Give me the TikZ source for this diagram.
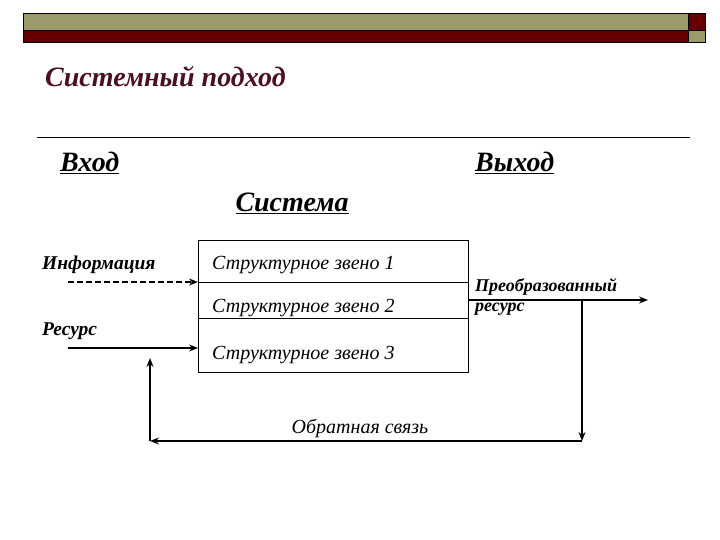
\documentclass[tikz,border=0pt]{standalone}
\usepackage{fontspec}
\setmainfont{Liberation Serif}
\usetikzlibrary{arrows.meta}
\definecolor{olive}{HTML}{9C9A6A}
\definecolor{dred}{HTML}{660000}
\definecolor{ttl}{HTML}{4A1020}
\begin{document}
\begin{tikzpicture}[x=1pt,y=-1pt,
  lbl/.style={font=\bfseries\itshape\fontsize{19.5}{20}\selectfont,anchor=west,inner sep=0},
  hd/.style={font=\bfseries\itshape\fontsize{28}{30}\selectfont,inner sep=0},
  zv/.style={font=\itshape\fontsize{20}{22}\selectfont,anchor=west,inner sep=0},
  arr/.style={-{Stealth[length=9pt,width=7pt]},line width=1.3pt}]
\useasboundingbox (0,0) rectangle (720,540);
\fill[olive,draw=black,line width=0.8pt] (23,13) rectangle (688,30);
\fill[dred,draw=black,line width=0.8pt] (23,30) rectangle (688,42);
\fill[dred,draw=black,line width=0.8pt] (688,13) rectangle (705,30);
\fill[olive,draw=black,line width=0.8pt] (688,30) rectangle (705,42);
\node[hd,anchor=west,text=ttl] (t) at (45,77) {Системный подход};
\draw[line width=0.8pt] (37,137) -- (690,137);
\node[hd,anchor=west] (vx) at (60,163) {\underline{Вход}};
\node[hd,anchor=west] (vy) at (475,163) {\underline{Выход}};
\node[hd] (s) at (292,203) {\underline{Система}};
\draw[line width=0.8pt] (198,240) rectangle (468,372);
\draw[line width=0.8pt] (198,282) -- (468,282);
\draw[line width=0.8pt] (198,318) -- (468,318);
\coordinate (bl1) at (198,282);
\coordinate (bl2) at (198,348);
\coordinate (br) at (468,300);
\node[zv] (z1) at (212,265) {Структурное звено 1};
\node[zv] (z2) at (212,308) {Структурное звено 2};
\node[zv] (z3) at (212,355) {Структурное звено 3};
\node[lbl] (inf) at (42,265) {Информация};
\node[lbl] (res) at (42,331) {Ресурс};
\coordinate (a1) at (68,282);
\coordinate (a2) at (68,348);
\draw[arr,dashed,dash pattern=on 6pt off 3pt] (a1) -- (bl1);
\draw[arr] (a2) -- (bl2);
\coordinate (oe) at (648,300);
\coordinate (fr) at (582,300);
\coordinate (frb) at (582,441);
\coordinate (flb) at (150,441);
\coordinate (flt) at (150,358);
\draw[arr] (br) -- (oe);
\draw[arr] (fr) -- (frb);
\draw[arr] (frb) -- (flb);
\draw[arr] (flb) -- (flt);
\node[lbl,font=\bfseries\itshape\fontsize{18}{18}\selectfont] (pr) at (475,287) {Преобразованный};
\node[lbl,font=\bfseries\itshape\fontsize{18}{18}\selectfont] (pr2) at (475,309) {ресурс};
\node[font=\itshape\fontsize{20}{22}\selectfont,inner sep=0] (fb) at (360,428) {Обратная связь};
\end{tikzpicture}
\end{document}
